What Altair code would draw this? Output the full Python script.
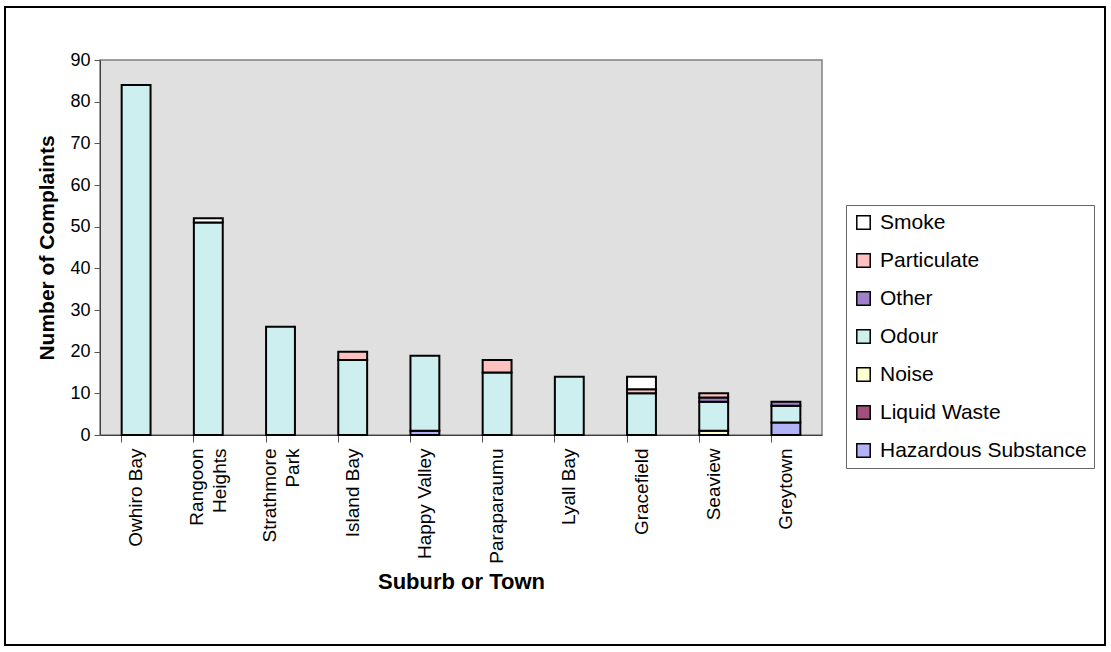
import altair as alt
import pandas as pd

# Complaints by suburb, split by complaint type
suburbs = ["Owhiro Bay", "Rangoon Heights", "Strathmore Park", "Island Bay",
           "Happy Valley", "Paraparaumu", "Lyall Bay", "Gracefield",
           "Seaview", "Greytown"]
hazardous = [0, 0, 0, 0, 1, 0, 0, 0, 0, 3]
liquid_waste = [0, 0, 0, 0, 0, 0, 0, 0, 0, 0]
noise = [0, 0, 0, 0, 0, 0, 0, 0, 1, 0]
odour = [84, 51, 26, 18, 18, 15, 14, 10, 7, 4]
other = [0, 0, 0, 0, 0, 0, 0, 0, 1, 1]
particulate = [0, 0, 0, 2, 0, 3, 0, 1, 1, 0]
smoke = [0, 1, 0, 0, 0, 0, 0, 3, 0, 0]

# stacking order, bottom to top
types = ["Hazardous Substance", "Liquid Waste", "Noise", "Odour",
         "Other", "Particulate", "Smoke"]
series = [hazardous, liquid_waste, noise, odour, other, particulate, smoke]
colors = ["#B2B2F6", "#A0507A", "#FFFFD0", "#CDEFEF", "#A080C8", "#FFC0C0", "#FFFFFF"]

rows = []
for k, (t, vals) in enumerate(zip(types, series)):
    for s, v in zip(suburbs, vals):
        if v > 0:
            rows.append({"suburb": s, "type": t, "count": v, "idx": k})
df = pd.DataFrame(rows)

legend_order = types[::-1]
legend_colors = colors[::-1]

two_line = "indexof(['Rangoon Heights','Strathmore Park'], datum.value) >= 0"
multi = "indexof(['Rangoon Heights','Strathmore Park'], datum.label) >= 0 ? split(datum.label, ' ') : datum.label"

bars = alt.Chart(df).mark_bar(stroke="black", strokeWidth=2).encode(
    x=alt.X("suburb:N", sort=suburbs,
            scale=alt.Scale(domain=suburbs, paddingInner=0.6, paddingOuter=0.3),
            axis=alt.Axis(title="Suburb or Town", labelAngle=-90, labelAlign="right",
                          labelBaseline="middle", labelFontSize=19, labelLineHeight=23,
                          labelExpr=multi, bandPosition=0, tickSize=7,
                          labelOffset={"condition": {"test": two_line, "value": -11}, "value": 0},
                          tickColor="#555555", domainColor="#404040",
                          labelPadding=6, titlePadding=8, titleFontSize=22)),
    y=alt.Y("count:Q", stack="zero",
            scale=alt.Scale(domain=[0, 90]),
            axis=alt.Axis(title="Number of Complaints", values=list(range(0, 91, 10)),
                          labelFontSize=18, tickSize=6, tickColor="#555555",
                          domainColor="#404040", grid=False, labelPadding=4,
                          titlePadding=12, titleFontSize=21)),
    color=alt.Color("type:N", sort=legend_order,
                    scale=alt.Scale(domain=legend_order, range=legend_colors),
                    legend=alt.Legend(title=None, orient="none", legendX=746, legendY=145,
                                      symbolType="square", symbolSize=180,
                                      symbolStrokeColor="black", symbolStrokeWidth=1.5,
                                      labelFontSize=21, labelLimit=400, rowPadding=16,
                                      strokeColor="#666666", padding=7,
                                      labelOffset=6)),
    order=alt.Order("idx:Q", sort="ascending"),
)

frame = alt.Chart(df).mark_rect(fill=None, stroke="black", strokeWidth=1.5).encode(
    x=alt.value(-95), x2=alt.value(1005), y=alt.value(-53), y2=alt.value(585)
)

chart = alt.layer(frame, bars).properties(
    width=722, height=375,
    padding={"left": 100, "top": 60, "right": 289, "bottom": 217},
    autosize=alt.AutoSizeParams(type="none"),
    background="white",
).configure_view(
    fill="#E0E0E0", stroke="#808080", strokeWidth=1.5
).configure_axis(
    labelFont="Liberation Sans", titleFont="Liberation Sans",
    labelColor="black", titleColor="black", titleFontWeight="bold",
).configure_legend(
    labelFont="Liberation Sans", labelColor="black"
)

chart.save("out.html", embed_options={"renderer": "svg", "actions": False})
